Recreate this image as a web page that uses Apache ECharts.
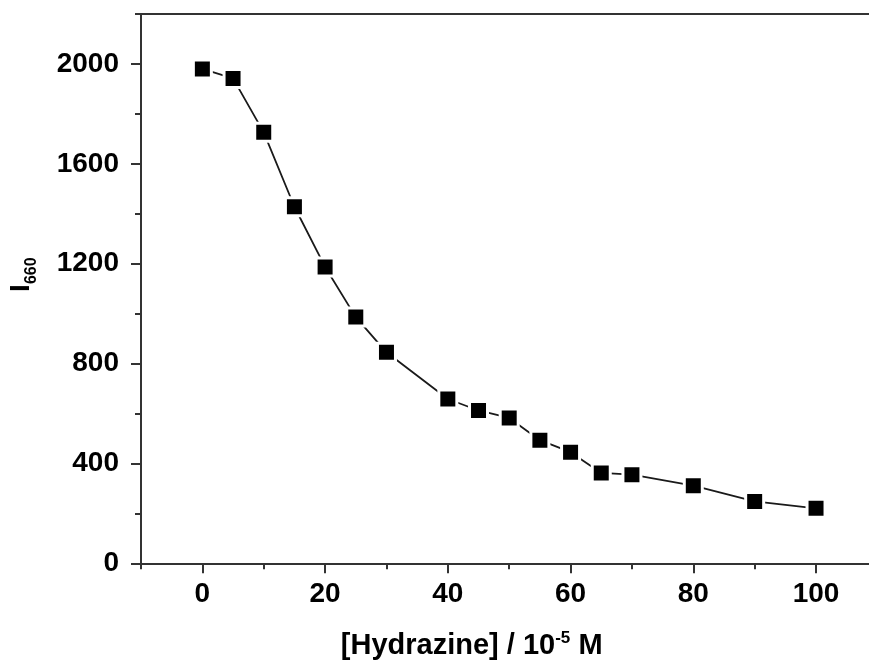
<!DOCTYPE html>
<html>
<head>
<meta charset="utf-8">
<script src="https://cdn.jsdelivr.net/npm/echarts@6/dist/echarts.min.js"></script>
<style>
html,body{margin:0;padding:0;background:#fff;}
#chart{width:869px;height:664px;}
</style>
</head>
<body>
<div id="chart"></div>
<script>
var concentration = [0, 5, 10, 15, 20, 25, 30, 40, 45, 50, 55, 60, 65, 70, 80, 90, 100];
var intensity = [1980, 1942, 1726, 1428, 1187, 986, 845, 658, 612, 582, 493, 445, 362, 355, 311, 248, 220];
var xMajorTicks = [0, 20, 40, 60, 80, 100];
var xMinorTicks = [-10, 10, 30, 50, 70, 90, 110];
var yMajorTicks = [0, 400, 800, 1200, 1600, 2000];
var yMinorTicks = [200, 600, 1000, 1400, 1800, 2200];

var FONT = '"Liberation Sans", Arial, sans-serif';
var AXIS_COLOR = '#333333';
var plain = function (v) { return String(v); };

var points = concentration.map(function (c, i) { return [c, intensity[i]]; });

var chart = echarts.init(document.getElementById('chart'));
chart.setOption({
  backgroundColor: '#ffffff',
  animation: false,
  grid: { left: 141, top: 14, width: 736.4, height: 549.3, containLabel: false, outerBoundsMode: 'none' },
  xAxis: [
    {
      type: 'value', min: -10, max: 110, interval: 10, position: 'bottom',
      axisLine: { show: true, onZero: false, lineStyle: { color: AXIS_COLOR, width: 2 } },
      axisTick: { show: true, inside: false, length: 10, customValues: xMajorTicks, lineStyle: { color: AXIS_COLOR, width: 2 } },
      axisLabel: { show: true, customValues: xMajorTicks, formatter: plain, margin: 17, fontFamily: FONT, fontWeight: 'bold', fontSize: 28, color: '#000' },
      splitLine: { show: false },
      name: '{m|[Hydrazine] / 10}{s|-5}{m| M}',
      nameLocation: 'middle',
      nameGap: 67,
      nameTextStyle: {
        padding: [0, 75, 0, 0],
        rich: {
          m: { fontFamily: FONT, fontWeight: 'bold', fontSize: 29, lineHeight: 32, color: '#000' },
          s: { fontFamily: FONT, fontWeight: 'bold', fontSize: 17, lineHeight: 17, verticalAlign: 'top', color: '#000' }
        }
      }
    },
    {
      type: 'value', min: -10, max: 110, interval: 10, position: 'bottom',
      axisLine: { show: false, onZero: false },
      axisTick: { show: true, inside: false, length: 6, customValues: xMinorTicks, lineStyle: { color: AXIS_COLOR, width: 2 } },
      axisLabel: { show: false },
      splitLine: { show: false }
    },
    {
      type: 'value', min: -10, max: 110, position: 'top',
      axisLine: { show: true, onZero: false, lineStyle: { color: AXIS_COLOR, width: 2 } },
      axisTick: { show: false },
      axisLabel: { show: false },
      splitLine: { show: false }
    }
  ],
  yAxis: [
    {
      type: 'value', min: 0, max: 2200, interval: 200, position: 'left',
      axisLine: { show: true, onZero: false, lineStyle: { color: AXIS_COLOR, width: 2 } },
      axisTick: { show: true, inside: false, length: 10, customValues: yMajorTicks, lineStyle: { color: AXIS_COLOR, width: 2 } },
      axisLabel: { show: true, customValues: yMajorTicks, formatter: plain, margin: 22, fontFamily: FONT, fontWeight: 'bold', fontSize: 28, color: '#000' },
      splitLine: { show: false },
      name: '{i|I}{s|660}',
      nameLocation: 'middle',
      nameRotate: 90,
      nameGap: 101,
      nameTextStyle: {
        padding: [0, 0, 0, 28],
        rich: {
          i: { fontFamily: FONT, fontWeight: 'bold', fontSize: 28, lineHeight: 20, verticalAlign: 'top', color: '#000' },
          s: { fontFamily: FONT, fontWeight: 'bold', fontSize: 16, lineHeight: 33, verticalAlign: 'bottom', color: '#000' }
        }
      }
    },
    {
      type: 'value', min: 0, max: 2200, interval: 200, position: 'left',
      axisLine: { show: false, onZero: false },
      axisTick: { show: true, inside: false, length: 6, customValues: yMinorTicks, lineStyle: { color: AXIS_COLOR, width: 2 } },
      axisLabel: { show: false },
      splitLine: { show: false }
    }
  ],
  series: [
    {
      type: 'line',
      xAxisIndex: 0,
      yAxisIndex: 0,
      data: points,
      symbol: 'rect',
      symbolSize: 18,
      showSymbol: true,
      lineStyle: { color: '#1a1a1a', width: 1.8 },
      itemStyle: { color: '#000000', borderColor: '#ffffff', borderWidth: 3 },
      z: 5
    }
  ]
});
</script>
</body>
</html>
